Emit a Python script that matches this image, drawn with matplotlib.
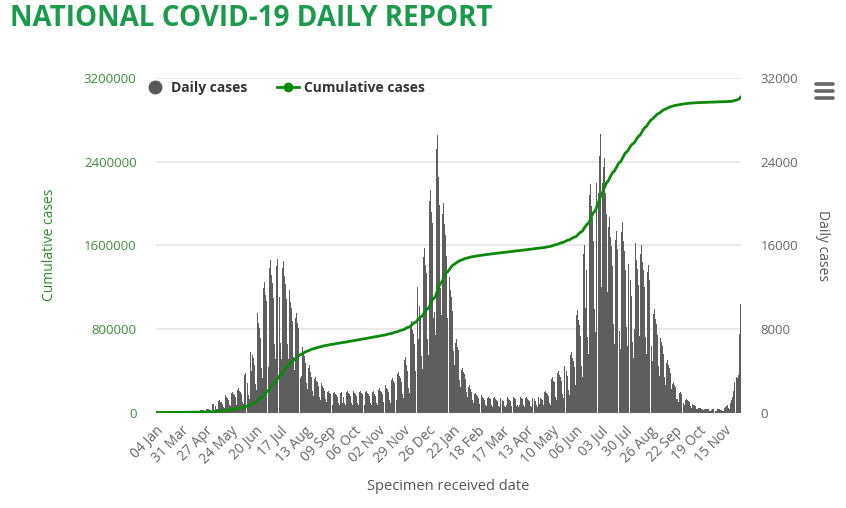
import matplotlib
matplotlib.use("Agg")
import matplotlib.pyplot as plt
import numpy as np
import pandas as pd
from matplotlib.lines import Line2D

# daily cases by specimen received date
jan_2020 = [1]  # lone 04 Jan 2020 entry
mar_2020 = [1, 0, 1, 1, 3, 4, 10, 12, 14, 10, 8, 25, 40, 55, 70, 80, 60, 55,
            110, 150, 130, 120, 110, 80, 70, 90, 100]
apr_2020 = [120, 110, 100, 70, 60, 110, 120, 110, 100, 60, 50, 40, 90, 140, 150,
            160, 150, 90, 70, 180, 210, 200, 220, 200, 120, 90, 150, 300, 330, 350]
may_2020 = [280, 200, 150, 810, 850, 770, 720, 640, 380, 300, 1090, 1150, 1040,
            980, 860, 520, 400, 1570, 1650, 1490, 1400, 1240, 740, 580, 1900, 2000,
            1800, 1700, 1500, 900, 700]
jun_2020 = [2190, 2300, 2070, 1960, 1730, 1040, 810, 3610, 3800, 3420, 3230, 2850,
            1710, 1330, 5800, 4000, 5490, 5190, 4580, 2750, 2140, 9030, 9500, 8550,
            8080, 7130, 4280, 3330, 11880, 12500]
jul_2020 = [11250, 10630, 9380, 5630, 4380, 13870, 14600, 13140, 12410, 10950, 6570,
            5110, 13970, 14700, 13230, 12500, 11030, 6620, 5150, 13780, 14500, 13050,
            12330, 10880, 6530, 5080, 11120, 11700, 10530, 9950, 8780]
aug_2020 = [5270, 4100, 9030, 9500, 8550, 8080, 7130, 4280, 3330, 3500, 6300, 5670,
            5360, 4730, 2840, 2210, 4280, 4500, 4050, 3830, 3380, 2030, 1580, 3230,
            3400, 3060, 2890, 2550, 1530, 1190, 2660]
sep_2020 = [2800, 2520, 2380, 2100, 1260, 980, 2000, 2100, 1890, 1790, 1580, 950,
            740, 1900, 2000, 1800, 1700, 1500, 900, 700, 1900, 2000, 1800, 900, 1500,
            900, 700, 1950, 2050, 1850]
oct_2020 = [1740, 1540, 920, 720, 2000, 2100, 1890, 1790, 1580, 950, 740, 1950, 2050,
            1850, 1740, 1540, 920, 720, 2000, 2100, 1890, 1790, 1580, 950, 740, 2000,
            2100, 1890, 1790, 1580, 950]
nov_2020 = [740, 2190, 2300, 2070, 1960, 1730, 1040, 810, 2470, 2600, 2340, 2210,
            1950, 1170, 910, 3140, 3300, 2970, 2810, 2480, 1490, 1160, 3710, 3900,
            3510, 3320, 2930, 1760, 1370, 5040]
dec_2020 = [5300, 4770, 4510, 3980, 2390, 1860, 8360, 8800, 7920, 7480, 6600, 3960,
            3080, 11400, 12000, 7000, 10200, 9000, 5400, 4200, 14920, 15700, 14130,
            13350, 6000, 7070, 5500, 20240, 21300, 19170, 18110]
jan_2021 = [9000, 9590, 7460, 25180, 26500, 23850, 22530, 19880, 11930, 9280, 19000,
            20000, 18000, 17000, 15000, 9000, 7000, 12350, 13000, 11700, 11050, 9750,
            5850, 4550, 6650, 7000, 6300, 5950, 5250, 3150, 2450]
feb_2021 = [4090, 4300, 3870, 3660, 3230, 1940, 1510, 2470, 2600, 2340, 2210, 1950,
            1170, 910, 1810, 1900, 1710, 1620, 1430, 860, 670, 1570, 1650, 1490, 1400,
            1240, 740, 580]
mar_2021 = [1430, 1500, 1350, 1280, 1130, 680, 530, 1380, 1450, 1310, 1230, 1090, 650,
            510, 1370, 1460, 1300, 1240, 1080, 660, 510, 700, 1450, 1310, 1230, 1090,
            650, 510, 1430, 1500, 1350]
apr_2021 = [1280, 600, 680, 530, 700, 1500, 1350, 1280, 1130, 680, 530, 1380, 1450,
            1310, 1230, 1090, 650, 510, 1430, 1500, 1350, 1280, 1130, 680, 530, 1470,
            800, 1400, 1320, 1160]
may_2021 = [700, 540, 2000, 2100, 1890, 1790, 1580, 950, 740, 3230, 3400, 3060, 2890,
            2550, 1530, 1190, 3800, 4000, 3600, 3400, 3000, 1800, 1400, 4470, 4700,
            4230, 4000, 3530, 2120, 1650, 5510]
jun_2021 = [5800, 5220, 4930, 4350, 2610, 2030, 9310, 9800, 8820, 8330, 7350, 4410,
            3430, 15200, 16000, 10000, 13600, 12000, 7200, 5600, 20810, 21900, 19710,
            18620, 16430, 9860, 7670, 22000, 23000, 23900]
jul_2021 = [21000, 24500, 26600, 12000, 22000, 23500, 24300, 21000, 19000, 11500, 8500,
            17770, 18700, 16830, 15900, 14030, 8420, 6550, 16530, 17400, 15660, 14790,
            13050, 7830, 6090, 17290, 18200, 16380, 15470, 13650, 8190]
aug_2021 = [6370, 14160, 14900, 13410, 12670, 11180, 6710, 5220, 8000, 16200, 14580,
            13770, 12150, 7290, 5670, 15200, 16000, 14400, 13600, 12000, 7200, 5600,
            13400, 14100, 12690, 11990, 10580, 6350, 4940, 9410, 9900]
sep_2021 = [8910, 8420, 7430, 4460, 3470, 7130, 7500, 6750, 6380, 5630, 3380, 2630,
            4750, 5000, 4500, 4250, 3750, 2250, 1750, 2760, 2900, 2610, 2470, 1300,
            1310, 1020, 1850, 1950, 1760, 1660]
oct_2021 = [1460, 880, 680, 1240, 1300, 1170, 1110, 980, 590, 460, 790, 830, 750, 710,
            620, 370, 290, 430, 450, 410, 380, 340, 200, 160, 360, 380, 340, 320, 290,
            170, 130]
nov_2021 = [200, 350, 320, 300, 260, 160, 120, 310, 330, 300, 280, 250, 150, 120, 400,
            450, 500, 600, 670, 400, 300, 900, 1150, 1500, 2100, 2900, 2300, 1600,
            3400, 3300]
dec_2021 = [3600, 7500, 10400]

cum_ticks = [0, 800000, 1600000, 2400000, 3200000]
daily_ticks = [0, 8000, 16000, 24000, 32000]

daily = np.array(jan_2020 + mar_2020 + apr_2020 + may_2020 + jun_2020 + jul_2020
                 + aug_2020 + sep_2020 + oct_2020 + nov_2020 + dec_2020 + jan_2021
                 + feb_2021 + mar_2021 + apr_2021 + may_2021 + jun_2021 + jul_2021
                 + aug_2021 + sep_2021 + oct_2021 + nov_2021 + dec_2021)
dates = [pd.Timestamp("2020-01-04")] + list(pd.date_range("2020-03-05", "2021-12-03"))
if len(dates) != len(daily):
    raise ValueError(f"{len(dates)} dates vs {len(daily)} values")
cumulative = np.cumsum(daily)
labels = [d.strftime("%d %b") for d in dates]

green = "#0a8a0a"
grey_txt = "#666666"
font = "Open Sans"

fig = plt.figure(figsize=(8.46, 5.08), dpi=100)
ax = fig.add_axes([156 / 846, 95.5 / 508, 585 / 846, 334.5 / 508])
ax2 = ax.twinx()
x = np.arange(len(daily))

# daily bars on the base axes, ticks on the right
ax.bar(x, daily, width=0.95, color="#5e5e5e", linewidth=0, zorder=2)
ax.set_xlim(-0.5, len(daily) - 0.5)
ax.set_ylim(0, 32000)
ax.yaxis.tick_right()
ax.yaxis.set_label_position("right")
ax.set_yticks(daily_ticks)
ax.set_yticklabels([str(t) for t in daily_ticks], color=grey_txt, fontsize=9.5, family=font)
ax.grid(axis="y", color="#e6e6e6", linewidth=1.2, zorder=0)
ax.set_axisbelow(True)
ax.set_xticks(x[::27])
ax.set_xticklabels(labels[::27], rotation=45, ha="right", rotation_mode="anchor",
                   color=grey_txt, fontsize=10, family=font)
ax.tick_params(axis="x", length=0, pad=8)
ax.tick_params(axis="y", length=0, pad=14)
for s in ax.spines.values():
    s.set_visible(False)
ax.set_ylabel("Daily cases", rotation=270, va="center", color="#555555",
              fontsize=10, family=font)
ax.yaxis.set_label_coords((822 - 156) / 585, 0.5)
ax.set_xlabel("Specimen received date", color="#555555", fontsize=10.5, family=font)
ax.xaxis.set_label_coords(0.5, -(487 - 412.5) / 334.5)
ax.xaxis.label.set_va("center")

# cumulative line on the twin, ticks on the left
ax2.plot(x, cumulative, color=green, lw=2, zorder=3)
ax2.set_ylim(0, 3200000)
ax2.yaxis.tick_left()
ax2.yaxis.set_label_position("left")
ax2.set_yticks(cum_ticks)
ax2.set_yticklabels([str(t) for t in cum_ticks], color="#3d8c3d", fontsize=9.5, family=font)
ax2.tick_params(axis="y", length=0, pad=14)
for s in ax2.spines.values():
    s.set_visible(False)
ax2.set_ylabel("Cumulative cases", color="#2e8b2e", fontsize=10, family=font)
ax2.yaxis.set_label_coords(-(156 - 57) / 585, 0.5)

handles = [Line2D([], [], marker="o", ls="none", color="#595959", markersize=9),
           Line2D([], [], marker="o", color=green, lw=2, markersize=6)]
leg = ax2.legend(handles, ["Daily cases", "Cumulative cases"], loc="center left",
                 bbox_to_anchor=(131 / 846, 1 - 88 / 508), bbox_transform=fig.transFigure,
                 ncol=2, frameon=False, handlelength=1.6, handletextpad=0.4,
                 columnspacing=2.1, prop={"family": font, "weight": "bold", "size": 10})
for t in leg.get_texts():
    t.set_color("#333333")

fig.text(10 / 846, 1 - 18 / 508, "NATIONAL COVID-19 DAILY REPORT", ha="left", va="center",
         color="#1a9a4a", fontsize=20, weight="bold", family=font)
for yy in (84, 91, 98):
    fig.add_artist(Line2D([816 / 846, 833 / 846], [1 - yy / 508, 1 - yy / 508], color="#666666",
                          lw=2.6, solid_capstyle="round"))

fig.savefig("out.png", dpi=100)
